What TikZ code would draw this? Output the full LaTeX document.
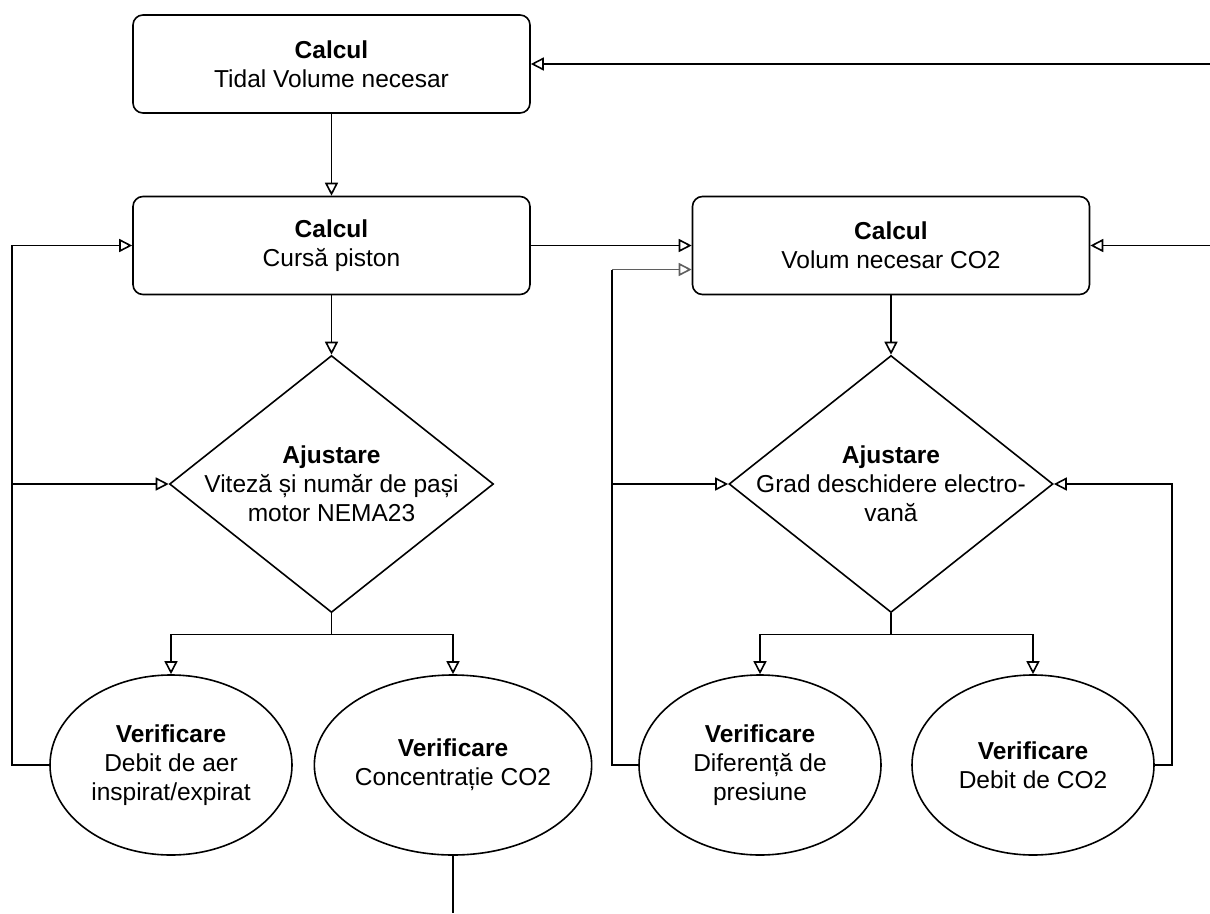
\documentclass[tikz,border=0pt]{standalone}
\usepackage{fontspec}
\setmainfont{Liberation Sans}
\usetikzlibrary{arrows.meta,shapes.geometric}
\tikzset{>={Triangle[open,length=13pt,width=13pt]}}
\definecolor{loopgray}{RGB}{95,95,95}
\tikzset{
	txt/.style={align=center,font=\fontsize{24.5}{29}\selectfont},
	box/.style={txt,draw,rounded corners=10pt,minimum width=397pt,minimum height=98pt},
	decision/.style={txt,draw,diamond,aspect=1.26,inner sep=-14pt,minimum width=324pt,minimum height=257pt},
	check/.style={txt,draw,ellipse,inner sep=0pt,minimum width=242pt,minimum height=180pt}
}

\begin{document}
\begin{tikzpicture}[x=1pt,y=-1pt,line width=1.6pt]
			\useasboundingbox (0,0) rectangle (1210,913);
			\node[box] (tidal) at (331.5,64) {\textbf{Calcul}\\Tidal Volume necesar};
			\node[box] (piston) at (331.5,245.5) {\textbf{Calcul}\\Cursă piston};
			\node[box] (volum) at (891,245.5) {\textbf{Calcul}\\Volum necesar CO2};
			\node[decision] (adj1) at (331.5,484) {\textbf{Ajustare}\\Viteză și număr de pași\\motor NEMA23};
			\node[decision] (adj2) at (891,484) {\textbf{Ajustare}\\Grad deschidere electro-\\vană};
			\node[check] (chk1) at (171,765) {\textbf{Verificare}\\Debit de aer\\inspirat/expirat};
			\node[check] (chk2) at (453,765) {\textbf{Verificare}\\Concentrație CO2};
			\node[check] (chk3) at (760,765) {\textbf{Verificare}\\Diferență de\\presiune};
			\node[check] (chk4) at (1033,765) {\textbf{Verificare}\\Debit de CO2};
			\coordinate (inTidal) at (1210,64);
			\coordinate (inVolum) at (1210,245.5);
			\coordinate (out) at (453,913);
			\coordinate (leftbus) at (12,500);
			\coordinate (midbus) at (612,500);
			\coordinate (rightbus) at (1172,600);
			\coordinate (feedCO2) at ([yshift=-24pt]volum.west);
			\draw[->] (inTidal) -- (tidal);
			\draw[->] (inVolum) -- (volum);
			\draw[->] (tidal) -- (piston);
			\draw[->] (piston) -- (volum);
			\draw[->] (piston) -- (adj1);
			\draw[->] (volum) -- (adj2);
			\foreach \a/\b in {adj1/chk1,adj1/chk2,adj2/chk3,adj2/chk4}
			\draw[->] (\a.south) -- ++(0,21) -| (\b.north);
			\draw[->] (chk1.west) -| (leftbus) |- (piston.west);
			\draw[->] (leftbus |- adj1.west) -- (adj1.west);
			\draw (chk3.west) -| (midbus) -- (midbus |- feedCO2);
			\draw[->,draw=loopgray] (midbus |- feedCO2) -- (feedCO2);
			\draw[->] (midbus |- adj2.west) -- (adj2.west);
			\draw[->] (chk4.east) -| (rightbus) |- (adj2.east);
			\draw (chk2) -- (out);
		\end{tikzpicture}
\end{document}
